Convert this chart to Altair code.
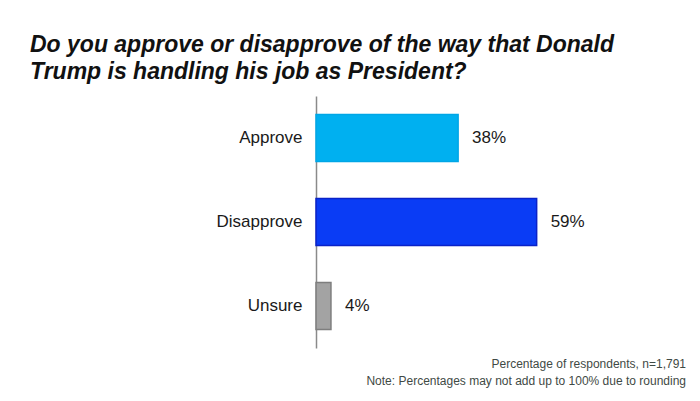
import altair as alt
import pandas as pd

# Poll responses
categories = ["Approve", "Disapprove", "Unsure"]
values = [38, 59, 4]
labels = ["38%", "59%", "4%"]
fills = ["#00B0F0", "#0A3CF5", "#A3A3A3"]
strokes = ["#00A6E6", "#0A22C8", "#7E7E7E"]

title_lines = [
    "Do you approve or disapprove of the way that Donald",
    "Trump is handling his job as President?",
]
notes = [
    "Percentage of respondents, n=1,791",
    "Note: Percentages may not add up to 100% due to rounding",
]

df = pd.DataFrame({
    "category": categories,
    "value": values,
    "label": labels,
})
notes_df = pd.DataFrame({"note": ["\n".join(notes)]})

FONT = "Liberation Sans"

y_enc = alt.Y(
    "category:N",
    sort=categories,
    title=None,
    scale=alt.Scale(paddingInner=0.44, paddingOuter=0.22),
    axis=alt.Axis(
        domain=True,
        domainColor="#8a8a8a",
        domainWidth=1.5,
        ticks=False,
        labelFont=FONT,
        labelFontSize=17,
        labelColor="#1a1a1a",
        labelPadding=14,
    ),
)
x_enc = alt.X(
    "value:Q",
    scale=alt.Scale(domain=[0, 100], nice=False),
    axis=None,
)

bars = alt.Chart(df).mark_bar(strokeWidth=1.5).encode(
    y=y_enc,
    x=x_enc,
    color=alt.Color("category:N", scale=alt.Scale(domain=categories, range=fills), legend=None),
    stroke=alt.Stroke("category:N", scale=alt.Scale(domain=categories, range=strokes), legend=None),
)

value_text = alt.Chart(df).mark_text(
    align="left", baseline="middle", dx=14, font=FONT, fontSize=17, color="#1a1a1a"
).encode(
    y=alt.Y("category:N", sort=categories),
    x="value:Q",
    text="label:N",
)

footnote = alt.Chart(notes_df).mark_text(
    align="right", baseline="middle", font=FONT, fontSize=12, color="#3f4a45",
    lineBreak="\n", lineHeight=17,
).encode(
    x=alt.value(370),
    y=alt.value(268),
    text="note:N",
)

chart = alt.layer(bars, value_text, footnote).properties(
    width=374,
    height=252,
    background="white",
    autosize=alt.AutoSizeParams(type="none"),
    padding={"left": 316, "top": 96, "right": 10, "bottom": 53},
    title=alt.TitleParams(
        text=title_lines,
        anchor="start",
        frame="group",
        dx=-286,
        offset=12,
        font=FONT,
        fontSize=23,
        fontStyle="italic",
        fontWeight="bold",
        color="#111111",
        lineHeight=27,
    ),
).configure_view(strokeWidth=0, stroke=None)

chart.save("out.html", embed_options={"renderer": "svg", "actions": False})
